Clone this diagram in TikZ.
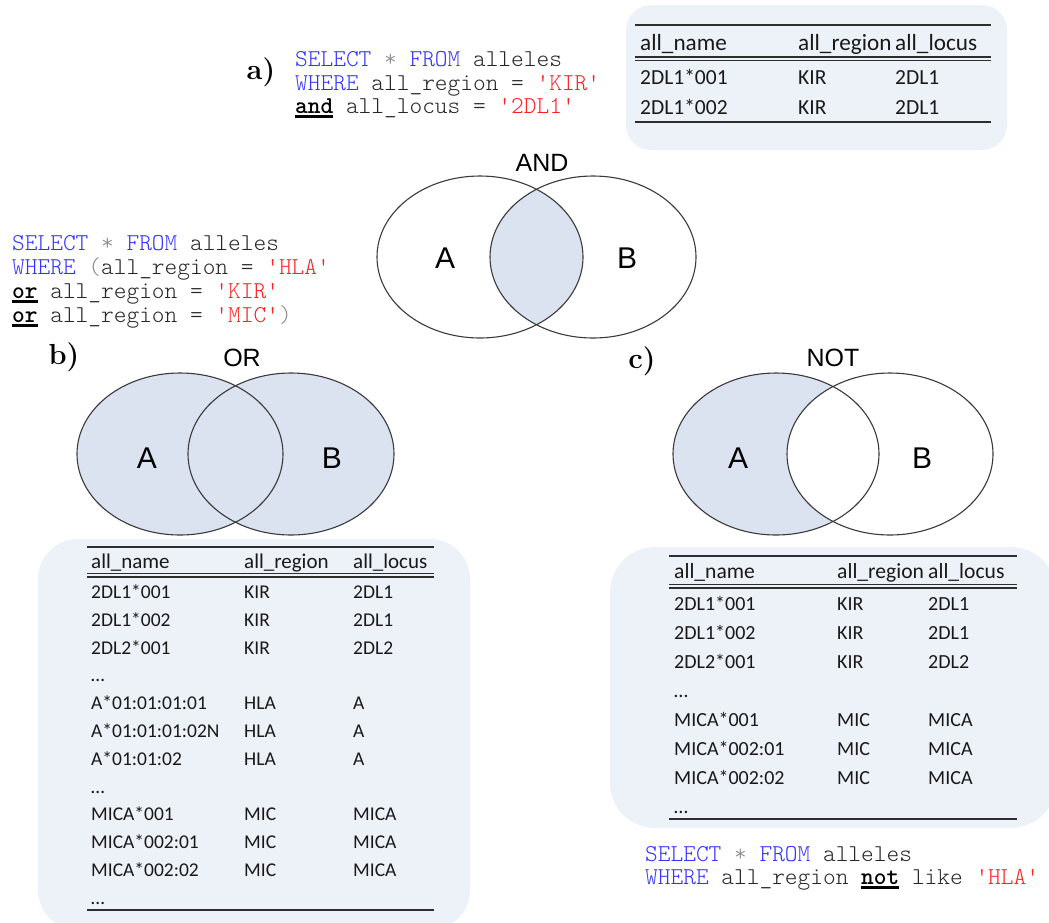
\documentclass[tikz,border=0pt]{standalone}
\usepackage{fontspec}
\setmainfont{Liberation Sans}
\newfontfamily\sqlfont{Latin Modern Mono Light}[WordSpace={1,0,0},HyphenChar=None]
\newfontfamily\tabfont{Carlito}
\newfontfamily\tagfont{Latin Modern Roman}

\definecolor{kwblue}{HTML}{3333FF}
\definecolor{strred}{HTML}{FF2020}
\definecolor{sqlgray}{HTML}{262626}
\definecolor{opgray}{HTML}{8C8C8C}
\definecolor{vennfill}{HTML}{DAE3EF}
\definecolor{vennline}{HTML}{3A3A3A}
\definecolor{boxfill}{HTML}{EDF1F8}
\definecolor{ruleblack}{HTML}{2E2E2E}

% SQL highlighting helpers
\newsavebox\boolbox
\newcommand\sqlkw[1]{\textcolor{kwblue}{#1}}
\newcommand\sqlstr[1]{\textcolor{strred}{#1}}
\newcommand\sqlop[1]{\textcolor{opgray}{#1}}
\newcommand\sqlbool[1]{\sbox\boolbox{\color{black}\bfseries #1}%
  \rlap{\color{black}\rule[-5pt]{\wd\boolbox}{3pt}}\usebox\boolbox}
\newcommand\q{\char39\relax}

\begin{document}
\begin{tikzpicture}[x=1pt,y=-1pt,
  sqlline/.style={anchor=base west,inner sep=0pt,text=sqlgray,
    font=\sqlfont\fontsize{24.2}{26}\selectfont},
  tag/.style={inner sep=0pt,font=\tagfont\bfseries\fontsize{29}{32}\selectfont},
  setlabel/.style={inner sep=0pt,font=\fontsize{30}{34}\selectfont},
  optitle/.style={inner sep=0pt,font=\fontsize{25}{28}\selectfont},
  cella/.style={anchor=base west,inner sep=0pt,text=black!90,font=\tabfont\fontsize{21.5}{24}\selectfont},
  heada/.style={cella,font=\tabfont\fontsize{23.2}{26}\selectfont},
  cellb/.style={anchor=base west,inner sep=0pt,text=black!90,font=\tabfont\fontsize{19.5}{22}\selectfont},
  headb/.style={cellb,font=\tabfont\fontsize{21}{24}\selectfont},
  cellc/.style={anchor=base west,inner sep=0pt,text=black!90,font=\tabfont\fontsize{20}{22}\selectfont},
  headc/.style={cellc,font=\tabfont\fontsize{21.6}{24}\selectfont},
  tabbox/.style={fill=boxfill,draw=none},
  thickrule/.style={draw=ruleblack,line width=1.9pt},
  thinrule/.style={draw=ruleblack,line width=1.2pt},
  setline/.style={draw=vennline,line width=1.1pt},
]
\useasboundingbox (0,0) rectangle (1049,922);
\clip (0,0) rectangle (1049,922);

% ---------- result boxes ----------
\fill[tabbox,rounded corners=25pt] (626,5) rectangle (1007,150);
\fill[tabbox,rounded corners=40pt] (38,539) rectangle (470,930);
\fill[tabbox,rounded corners=45pt] (610,547) rectangle (1056,828);

% ---------- a) AND ----------
\node[tag] (taga) at (261,72) {a)};
\node[sqlline] (sa1) at (295,66) {\sqlkw{SELECT} \sqlop{*} \sqlkw{FROM} alleles};
\node[sqlline] (sa2) at (295,90) {\sqlkw{WHERE} all\_region = \sqlstr{\q KIR\q}};
\node[sqlline] (sa3) at (295,113) {\sqlbool{and} all\_locus = \sqlstr{\q 2DL1\q}};

\draw[thickrule] (635,25) -- (991,25);
\node[heada] (ah1) at (640,50) {all\_name};
\node[heada] (ah2) at (798,50) {all\_region};
\node[heada] (ah3) at (895,50) {all\_locus};
\draw[thinrule] (635,57) -- (991,57);
\draw[thinrule] (635,60.5) -- (991,60.5);
\foreach \n/\r/\l [count=\i from 0] in {2DL1*001/KIR/2DL1, 2DL1*002/KIR/2DL1}{
  \node[cella] (an\i) at (640,84+30.5*\i) {\n};
  \node[cella] (ar\i) at (798,84+30.5*\i) {\r};
  \node[cella] (al\i) at (895,84+30.5*\i) {\l};
}
\draw[thickrule] (635,122) -- (991,122);

\node[optitle] (tand) at (542,163) {AND};
\begin{scope}
  \clip (480,257) ellipse [x radius=103, y radius=81];
  \fill[vennfill] (593,257) ellipse [x radius=103, y radius=81];
\end{scope}
\draw[setline] (480,257) ellipse [x radius=103, y radius=81];
\draw[setline] (593,257) ellipse [x radius=103, y radius=81];
\node[setlabel] (anda) at (445,258) {A};
\node[setlabel] (andb) at (627,258) {B};

% ---------- b) OR ----------
\node[sqlline] (sb1) at (12,250) {\sqlkw{SELECT} \sqlop{*} \sqlkw{FROM} alleles};
\node[sqlline] (sb2) at (12,274) {\sqlkw{WHERE} \sqlop{(}all\_region = \sqlstr{\q HLA\q}};
\node[sqlline] (sb3) at (12,298) {\sqlbool{or} all\_region = \sqlstr{\q KIR\q}};
\node[sqlline] (sb4) at (12,322) {\sqlbool{or} all\_region = \sqlstr{\q MIC\q}\sqlop{)}};

\node[tag] (tagb) at (64,357) {b)};
\node[optitle] (tor) at (242,358) {OR};
\fill[vennfill] (180,454) ellipse [x radius=103, y radius=81];
\fill[vennfill] (291,454) ellipse [x radius=103, y radius=81];
\draw[setline] (180,454) ellipse [x radius=103, y radius=81];
\draw[setline] (291,454) ellipse [x radius=103, y radius=81];
\node[setlabel] (ora) at (147,458) {A};
\node[setlabel] (orb) at (332,458) {B};

\draw[thickrule] (87,547) -- (434,547);
\node[headb] (bh1) at (91,568) {all\_name};
\node[headb] (bh2) at (244,568) {all\_region};
\node[headb] (bh3) at (353,568) {all\_locus};
\draw[thinrule] (87,573.5) -- (434,573.5);
\draw[thinrule] (87,577) -- (434,577);
\foreach \n/\r/\l [count=\i from 0] in {
  2DL1*001/KIR/2DL1, 2DL1*002/KIR/2DL1, 2DL2*001/KIR/2DL2, …//,
  A*01:01:01:01/HLA/A, A*01:01:01:02N/HLA/A, A*01:01:02/HLA/A, …//,
  MICA*001/MIC/MICA, MICA*002:01/MIC/MICA, MICA*002:02/MIC/MICA, …//}{
  \node[cellb] (bn\i) at (91,598.5+27.8*\i) {\n};
  \node[cellb] (br\i) at (244,598.5+27.8*\i) {\r};
  \node[cellb] (bl\i) at (353,598.5+27.8*\i) {\l};
}
\draw[thickrule] (87,910) -- (434,910);

% ---------- c) NOT ----------
\node[tag] (tagc) at (642,361) {c)};
\node[optitle] (tnot) at (833,358) {NOT};
\fill[vennfill] (776,454) ellipse [x radius=103, y radius=81];
\fill[white] (890,454) ellipse [x radius=103, y radius=81];
\draw[setline] (776,454) ellipse [x radius=103, y radius=81];
\draw[setline] (890,454) ellipse [x radius=103, y radius=81];
\node[setlabel] (nota) at (738,458) {A};
\node[setlabel] (notb) at (922,458) {B};

\draw[thickrule] (669,556) -- (1017,556);
\node[headc] (ch1) at (674,578) {all\_name};
\node[headc] (ch2) at (837,578) {all\_region};
\node[headc] (ch3) at (928,578) {all\_locus};
\draw[thinrule] (669,584.5) -- (1017,584.5);
\draw[thinrule] (669,588) -- (1017,588);
\foreach \n/\r/\l [count=\i from 0] in {
  2DL1*001/KIR/2DL1, 2DL1*002/KIR/2DL1, 2DL2*001/KIR/2DL2, …//,
  MICA*001/MIC/MICA, MICA*002:01/MIC/MICA, MICA*002:02/MIC/MICA, …//}{
  \node[cellc] (cn\i) at (674,610.5+29*\i) {\n};
  \node[cellc] (cr\i) at (837,610.5+29*\i) {\r};
  \node[cellc] (cl\i) at (928,610.5+29*\i) {\l};
}
\draw[thickrule] (669,819) -- (1017,819);

\node[sqlline] (sc1) at (645,861) {\sqlkw{SELECT} \sqlop{*} \sqlkw{FROM} alleles};
\node[sqlline] (sc2) at (645,884) {\sqlkw{WHERE} all\_region \sqlbool{not} like \sqlstr{\q HLA\q}};
\end{tikzpicture}
\end{document}
